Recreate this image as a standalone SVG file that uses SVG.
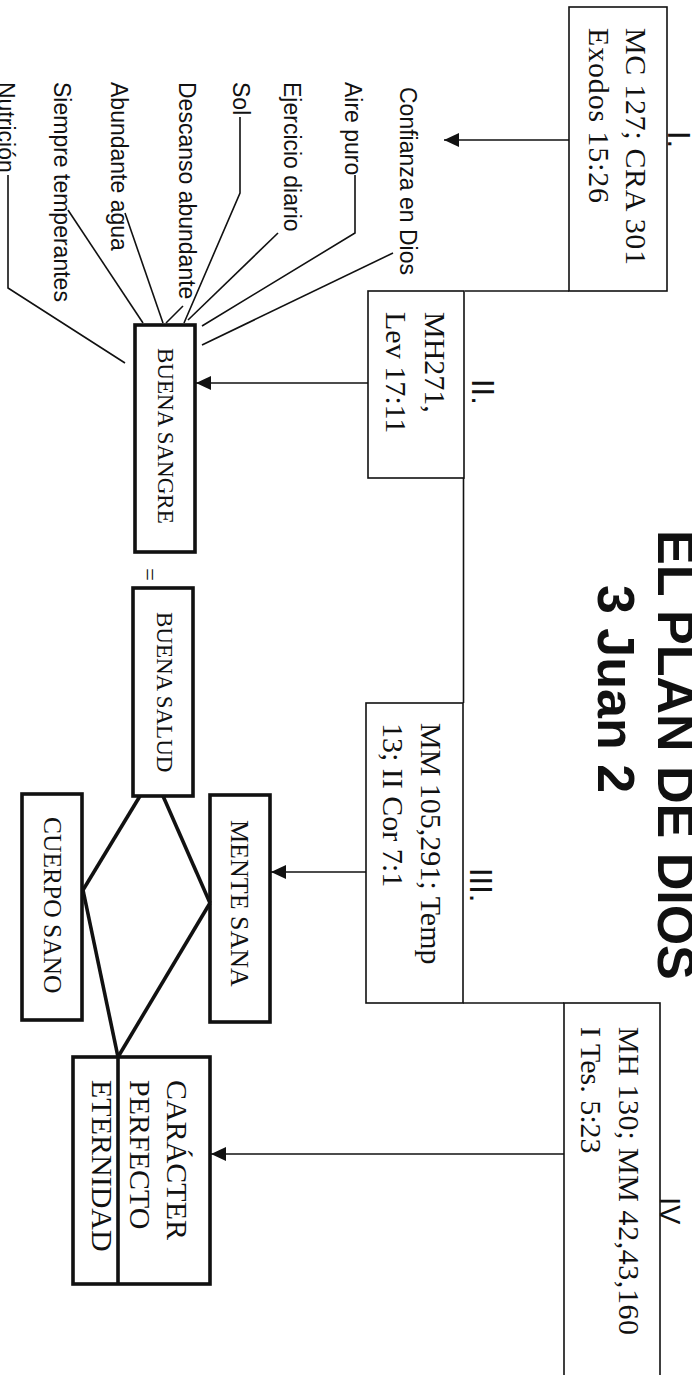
<svg xmlns="http://www.w3.org/2000/svg" width="692" height="1375" viewBox="0 0 692 1375">
<style>
.thin{fill:none;stroke:#111;stroke-width:1.6}
.thick{fill:none;stroke:#111;stroke-width:3.6}
.ref{font-family:"Liberation Serif","Times New Roman",serif;font-size:30px;fill:#111}
.node{font-family:"Liberation Serif","Times New Roman",serif;font-size:23px;fill:#111}
.big{font-family:"Liberation Serif","Times New Roman",serif;font-size:30px;fill:#111}
.item{font-family:"Liberation Sans",Arial,sans-serif;font-size:23px;fill:#111}
.num{font-family:"Liberation Sans",Arial,sans-serif;font-size:31px;fill:#111}
.title{font-family:"Liberation Sans",Arial,sans-serif;font-size:52px;font-weight:bold;fill:#111}
</style>
<defs>
<marker id="arrow" markerUnits="userSpaceOnUse" markerWidth="15" markerHeight="14" refX="15" refY="7" orient="auto">
<path d="M0,0 L15,7 L0,14 z" fill="#111"/>
</marker>
</defs>
<rect width="692" height="1375" fill="#fff"/>

<g id="title">
<text class="title" transform="translate(658,530) rotate(90)">EL PLAN DE DIOS</text>
<text class="title" transform="translate(598,585) rotate(90)">3 Juan 2</text>
</g>

<g id="box-1">
<rect class="thin" x="569" y="7" width="98" height="284"/>
<text class="ref" transform="translate(626,28) rotate(90)" textLength="237">MC 127; CRA 301</text>
<text class="ref" transform="translate(589,28) rotate(90)" textLength="175">Exodos 15:26</text>
<text class="num" transform="translate(668,131) rotate(90)">I.</text>
</g>

<g id="box-2">
<rect class="thin" x="368" y="291" width="96" height="187"/>
<text class="ref" transform="translate(425,312) rotate(90)">MH271,</text>
<text class="ref" transform="translate(386,312) rotate(90)">Lev 17:11</text>
<text class="num" transform="translate(472,379) rotate(90)">II.</text>
</g>

<g id="box-3">
<rect class="thin" x="366" y="703" width="97" height="300"/>
<text class="ref" transform="translate(421,723) rotate(90)">MM 105,291; Temp</text>
<text class="ref" transform="translate(383,723) rotate(90)">13; II Cor 7:1</text>
<text class="num" transform="translate(470,868) rotate(90)">III.</text>
</g>

<g id="box-4">
<rect class="thin" x="564" y="1003" width="96" height="400"/>
<text class="ref" transform="translate(619,1027) rotate(90)" textLength="308">MH 130; MM 42,43,160</text>
<text class="ref" transform="translate(581,1027) rotate(90)">I Tes. 5:23</text>
<text class="num" transform="translate(660,1197) rotate(90)" style="font-size:29px">IV</text>
</g>

<g id="item-confianza"><text class="item" transform="translate(400,87) rotate(90)">Confianza en Dios</text></g>
<g id="item-aire"><text class="item" transform="translate(345,82) rotate(90)">Aire puro</text></g>
<g id="item-ejercicio"><text class="item" transform="translate(284,82) rotate(90)">Ejercicio diario</text></g>
<g id="item-sol"><text class="item" transform="translate(233,82) rotate(90)">Sol</text></g>
<g id="item-descanso"><text class="item" transform="translate(179,82) rotate(90)">Descanso abundante</text></g>
<g id="item-agua"><text class="item" transform="translate(111,82) rotate(90)">Abundante agua</text></g>
<g id="item-temperantes"><text class="item" transform="translate(54,82) rotate(90)">Siempre temperantes</text></g>
<g id="item-nutricion"><text class="item" transform="translate(-2,82) rotate(90)">Nutrición</text></g>

<g id="buena-sangre">
<rect class="thick" x="135" y="325" width="60" height="227"/>
<text class="node" transform="translate(158,348) rotate(90)">BUENA SANGRE</text>
</g>

<g id="equals"><text class="node" transform="translate(142,568) rotate(90)">=</text></g>

<g id="buena-salud">
<rect class="thick" x="133" y="588" width="60" height="208"/>
<text class="node" transform="translate(157,612) rotate(90)">BUENA SALUD</text>
</g>

<g id="mente-sana">
<rect class="thick" x="210" y="795" width="60" height="227"/>
<text class="node" transform="translate(231,820) rotate(90)" style="font-size:26px">MENTE SANA</text>
</g>

<g id="cuerpo-sano">
<rect class="thick" x="22" y="794" width="60" height="226"/>
<text class="node" transform="translate(44,817) rotate(90)" style="font-size:25.5px">CUERPO SANO</text>
</g>

<g id="caracter">
<rect class="thick" x="73" y="1057" width="137" height="227"/>
<line class="thick" x1="118" y1="1057" x2="118" y2="1284"/>
<text class="big" transform="translate(167,1080) rotate(90)">CARÁCTER</text>
<text class="big" transform="translate(130,1080) rotate(90)">PERFECTO</text>
<text class="big" transform="translate(92,1080) rotate(90)">ETERNIDAD</text>
</g>

<g id="connectors">
<line class="thin" x1="465" y1="291" x2="569" y2="291"/>
<line class="thin" x1="463.5" y1="478" x2="463.5" y2="703"/>
<line class="thin" x1="463" y1="1003" x2="564" y2="1003"/>
<line class="thin" x1="569" y1="140" x2="444" y2="140" marker-end="url(#arrow)"/>
<line class="thin" x1="368" y1="383" x2="196" y2="383" marker-end="url(#arrow)"/>
<line class="thin" x1="366" y1="872" x2="271" y2="872" marker-end="url(#arrow)"/>
<line class="thin" x1="564" y1="1154" x2="211" y2="1154" marker-end="url(#arrow)"/>
<polyline class="thin" points="393,253 202,345"/>
<polyline class="thin" points="355,175 355,233 202,326"/>
<polyline class="thin" points="278,233 188,320"/>
<polyline class="thin" points="240,117 240,193 184,323"/>
<polyline class="thin" points="183,306 166,323"/>
<polyline class="thin" points="125,213 163,323"/>
<polyline class="thin" points="68,210 143,323"/>
<polyline class="thin" points="8,175 8,288 125,363"/>
<line class="thick" x1="140" y1="796" x2="83" y2="890"/>
<line class="thick" x1="163" y1="796" x2="210" y2="903"/>
<line class="thick" x1="83" y1="890" x2="118" y2="1057"/>
<line class="thick" x1="210" y1="903" x2="118" y2="1057"/>
</g>
</svg>
